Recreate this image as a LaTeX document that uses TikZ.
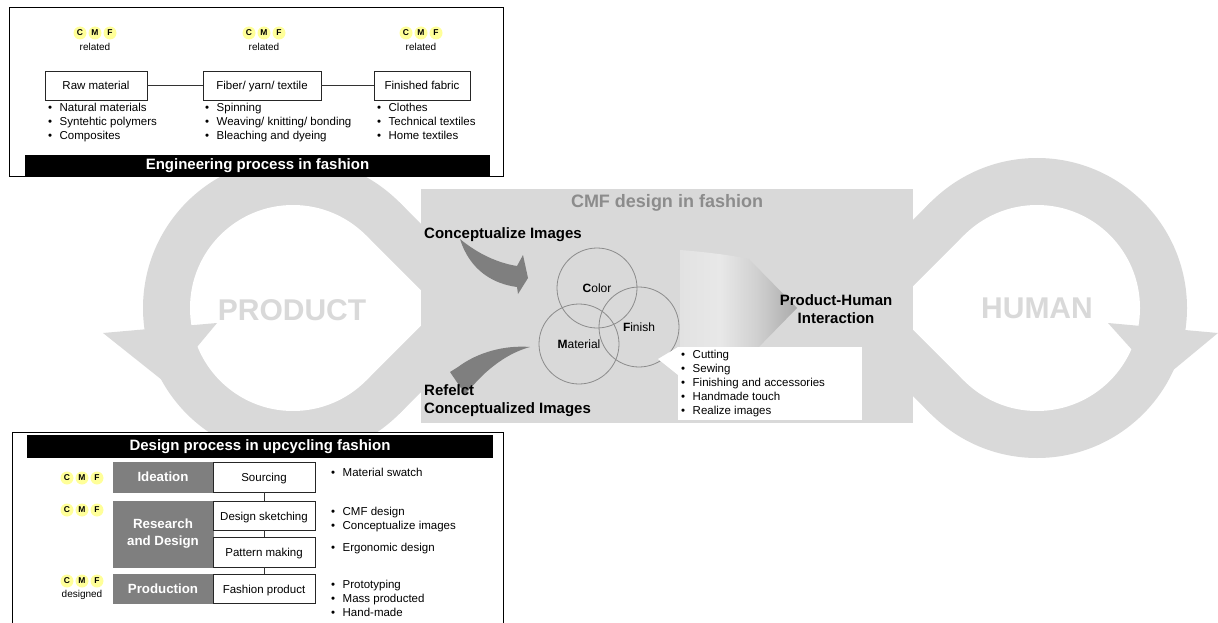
\documentclass[tikz,border=0pt]{standalone}
\usepackage{fontspec}
\setmainfont{Liberation Sans}
\usetikzlibrary{shapes.geometric}
\definecolor{ringgray}{HTML}{D9D9D9}
\definecolor{boxgray}{HTML}{7F7F7F}
\definecolor{arrowgray}{HTML}{7F7F7F}
\definecolor{badgey}{HTML}{FFFF99}
\definecolor{titlegray}{HTML}{8C8C8C}
\definecolor{circgray}{HTML}{8C8C8C}
\definecolor{shA}{HTML}{E2E2E2}
\definecolor{shB}{HTML}{E8E8E8}
\definecolor{shC}{HTML}{D0D0D0}
\definecolor{shD}{HTML}{AAAAAA}
\pgfdeclarehorizontalshading{arrowshade}{100bp}{color(0bp)=(shA); color(25bp)=(shA); color(42bp)=(shB); color(58bp)=(shC); color(75bp)=(shD); color(100bp)=(shD)}
\newcommand\bul{\makebox[11.5pt][l]{\textbullet}}
\tikzset{
  txt/.style={font=\fontsize{11.5}{14}\selectfont, inner sep=0pt},
  item/.style={txt, anchor=base west},
  wbox/.style={draw=black!85, line width=0.8pt, fill=white, minimum height=29pt, inner sep=0pt, text height=9pt, text depth=0pt, font=\fontsize{11.5}{14}\selectfont},
  gbox/.style={fill=boxgray, draw=boxgray, text=white, font=\bfseries\fontsize{13.3}{17}\selectfont, minimum width=100pt, inner sep=0pt, align=center},
  badge/.style={circle, fill=badgey, inner sep=0pt, minimum size=13pt, font=\bfseries\fontsize{8.5}{9}\selectfont},
  bar/.style={fill=black, text=white, font=\bfseries\fontsize{15}{18}\selectfont, inner sep=0pt},
  small/.style={font=\fontsize{10}{12}\selectfont, inner sep=0pt},
  bigword/.style={text=ringgray, font=\bfseries\fontsize{30}{36}\selectfont, inner sep=0pt},
  headline/.style={font=\bfseries\fontsize{15}{18}\selectfont, inner sep=0pt},
  vcirc/.style={circle, draw=circgray, line width=0.8pt, minimum size=80pt, inner sep=0pt, font=\fontsize{12}{14}\selectfont},
  link/.style={draw=black!80, line width=0.9pt},
  cmf/.pic={
    \node[badge] (-c) at (-15,0) {C};
    \node[badge] (-m) at (0,0) {M};
    \node[badge] (-f) at (15,0) {F};
  }
}
\begin{document}
\begin{tikzpicture}[x=1pt,y=-1pt]
\useasboundingbox (0,0) rectangle (1218,623);
\begin{scope}
\clip (0,0) rectangle (1218,623);
% ---------- PRODUCT ring ----------
\fill[ringgray] (293,308) circle[radius=150];
\fill[ringgray] (293,308) -- (399.07,201.93) -- (505.13,308) -- (399.07,414.07) -- cycle;
\fill[white] (293,308) circle[radius=103];
\fill[white] (293,308) -- (365.83,235.17) -- (438.66,308) -- (365.83,380.83) -- cycle;
\fill[ringgray] (103,333) -- (217,323) -- (166.5,383.6) -- cycle;
% ---------- HUMAN ring ----------
\fill[ringgray] (1037,308) circle[radius=150];
\fill[ringgray] (1037,308) -- (930.93,201.93) -- (824.87,308) -- (930.93,414.07) -- cycle;
\fill[white] (1037,308) circle[radius=103];
\fill[white] (1037,308) -- (964.17,235.17) -- (891.34,308) -- (964.17,380.83) -- cycle;
\fill[ringgray] (1108,323) -- (1218,333) -- (1160,381) -- cycle;
\node[bigword] (product) at (292,310) {PRODUCT};
\node[bigword] (human) at (1037,308) {HUMAN};
% ---------- CMF design panel ----------
\fill[ringgray] (421,189) rectangle (913,423);
\node[font=\bfseries\fontsize{18}{21}\selectfont, text=titlegray, inner sep=0pt] (cmftitle) at (667,203) {CMF design in fashion};
% gradient arrow
\shade[shading=arrowshade] (680,250) .. controls (705,252) and (730,255) .. (749,259) -- (797,308) -- (752,354) -- (752,362) -- (680,362) -- cycle;
\node[headline, align=center] (phi) at (836,309) {Product-Human\\Interaction};
% curved arrows
\fill[arrowgray] (460,239) .. controls (478,254) and (498,263) .. (517,266) -- (523,255) -- (528,278) -- (518,294) -- (517,287) .. controls (494,284) and (470,271) .. cycle;
\fill[arrowgray] (530,347) .. controls (505,345) and (478,352) .. (458,367) -- (450,372) -- (465,394) -- (479,379) -- (483,375) .. controls (497,362) and (512,352) .. cycle;
\node[headline, anchor=west] (concept) at (424,235) {Conceptualize Images};
\node[headline, anchor=west, align=left] (reflect) at (424,401) {Refelct\\Conceptualized Images};
% circles
\node[vcirc] (color) at (597,288) {\textbf{C}olor};
\node[vcirc] (finish) at (639,327) {\textbf{F}inish};
\node[vcirc] (material) at (579,344) {\textbf{M}aterial};
% callout
\fill[white] (678,347) -- (658,359) -- (678,375) -- cycle;
\node[fill=white, minimum width=184pt, minimum height=73pt, inner sep=0pt, anchor=north west] (callout) at (678,347) {};
\foreach \t [count=\i] in {Cutting,Sewing,Finishing and accessories,Handmade touch,Realize images}
  \node[item] (cl\i) at (681,344+14*\i) {\bul\t};
% ---------- Engineering process (top) ----------
\draw[line width=0.8pt, fill=white] (9,7) rectangle (503,176);
\node[bar, minimum width=465pt, minimum height=21pt] (engbar) at (257.5,165.5) {Engineering process in fashion};
\pic (b1) at (95,33) {cmf};
\pic (b2) at (264,33) {cmf};
\pic (b3) at (421,33) {cmf};
\node[small] (r1) at (95,47) {related};
\node[small] (r2) at (264,47) {related};
\node[small] (r3) at (421,47) {related};
\node[wbox, minimum width=102pt] (raw) at (96,85.5) {Raw material};
\node[wbox, minimum width=118pt] (fiber) at (262,85.5) {Fiber/ yarn/ textile};
\node[wbox, minimum width=96pt] (fabric) at (422,85.5) {Finished fabric};
\draw[link] (raw) -- (fiber);
\draw[link] (fiber) -- (fabric);
\foreach \t [count=\i] in {Natural materials,Syntehtic polymers,Composites}
  \node[item] (rawl\i) at (48,98+14*\i) {\bul\t};
\foreach \t [count=\i] in {Spinning,Weaving/ knitting/ bonding,Bleaching and dyeing}
  \node[item] (fibl\i) at (205,98+14*\i) {\bul\t};
\foreach \t [count=\i] in {Clothes,Technical textiles,Home textiles}
  \node[item] (fabl\i) at (377,98+14*\i) {\bul\t};
% ---------- Design process (bottom) ----------
\draw[line width=0.8pt, fill=white] (12,432) rectangle (503,640);
\node[bar, minimum width=466pt, minimum height=23pt] (desbar) at (260,446.5) {Design process in upcycling fashion};
\node[gbox, minimum height=30pt] (ideation) at (163,477) {Ideation};
\node[gbox, minimum height=66pt] (research) at (163,534) {Research\\and Design};
\node[gbox, minimum height=29pt] (production) at (163,588.5) {Production};
\node[wbox, minimum width=102pt, minimum height=30pt] (sourcing) at (264,477) {Sourcing};
\node[wbox, minimum width=102pt] (sketch) at (264,515.5) {Design sketching};
\node[wbox, minimum width=102pt, minimum height=30pt] (pattern) at (264,552) {Pattern making};
\node[wbox, minimum width=102pt] (fashion) at (264,588.5) {Fashion product};
\draw[link] (sourcing) -- (sketch);
\draw[link] (sketch) -- (pattern);
\draw[link] (pattern) -- (fashion);
\pic (b4) at (82,478) {cmf};
\pic (b5) at (82,510) {cmf};
\pic (b6) at (82,581) {cmf};
\node[small] (designed) at (82,595) {designed};
\node[item] (ml1) at (331,476) {\bul Material swatch};
\node[item] (ml2) at (331,515) {\bul CMF design};
\node[item] (ml3) at (331,529) {\bul Conceptualize images};
\node[item] (ml4) at (331,551) {\bul Ergonomic design};
\node[item] (ml5) at (331,588) {\bul Prototyping};
\node[item] (ml6) at (331,602) {\bul Mass producted};
\node[item] (ml7) at (331,616) {\bul Hand-made};
\end{scope}
\end{tikzpicture}
\end{document}
